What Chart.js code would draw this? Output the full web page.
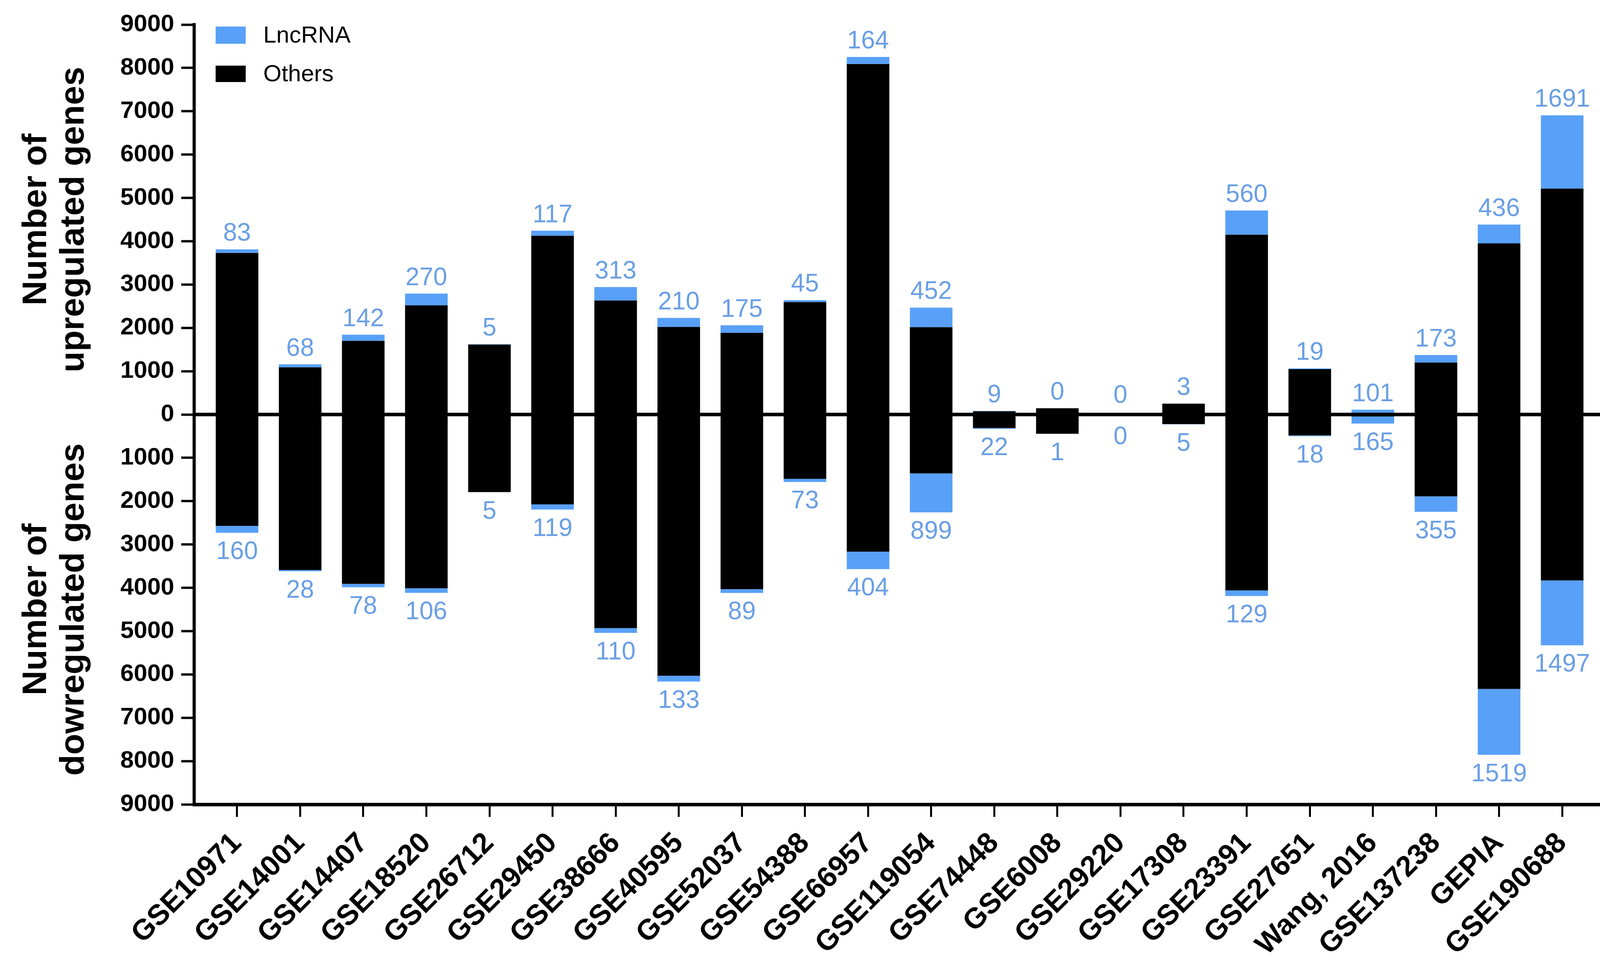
<!DOCTYPE html>
<html><head><meta charset="utf-8">
<script src="https://cdn.jsdelivr.net/npm/chart.js@4.4.1/dist/chart.umd.min.js"></script>
<style>html,body{margin:0;padding:0;background:#fff}canvas{display:block}</style>
</head><body>
<canvas id="c" width="4173" height="2488" style="width:4173px;height:2488px"></canvas>
<script>
const categories = ['GSE10971','GSE14001','GSE14407','GSE18520','GSE26712','GSE29450','GSE38666','GSE40595','GSE52037','GSE54388','GSE66957','GSE119054','GSE74448','GSE6008','GSE29220','GSE17308','GSE23391','GSE27651','Wang, 2016','GSE137238','GEPIA','GSE190688'];
const lncUp      = [83, 68, 142, 270, 5, 117, 313, 210, 175, 45, 164, 452, 9, 0, 0, 3, 560, 19, 101, 173, 436, 1691];
const othersUp   = [3730, 1090, 1700, 2520, 1615, 4125, 2630, 2020, 1885, 2595, 8090, 2015, 75, 145, 0, 250, 4150, 1045, 10, 1200, 3950, 5215];
const lncDown    = [160, 28, 78, 106, 5, 119, 110, 133, 89, 73, 404, 899, 22, 1, 0, 5, 129, 18, 165, 355, 1519, 1497];
const othersDown = [2570, 3590, 3910, 4010, 1790, 2075, 4930, 6030, 4030, 1485, 3165, 1360, 310, 445, 0, 222, 4060, 483, 45, 1890, 6335, 3830];
const legendLabels = ['LncRNA', 'Others'];
const titleUp = ['Number of', 'upregulated genes'];
const titleDown = ['Number of', 'dowregulated genes'];

const BLUE = '#58a0f8';
const BLACK = '#000000';
const LABEL_BLUE = '#6a9fe4';
const FONT = "'Liberation Sans', Arial, Helvetica, sans-serif";

const neg = a => a.map(v => -v);

const labelsPlugin = {
  id: 'lncLabels',
  afterDatasetsDraw(chart) {
    const ctx = chart.ctx;
    const ca = chart.chartArea;
    const yS = chart.scales.y;
    const y0 = yS.getPixelForValue(0);
    ctx.save();
    ctx.strokeStyle = BLACK;
    ctx.lineWidth = 9;
    ctx.beginPath();
    ctx.moveTo(ca.left, y0);
    ctx.lineTo(ca.right, y0);
    ctx.stroke();
    const mUp = chart.getDatasetMeta(1);
    const mDown = chart.getDatasetMeta(3);
    ctx.fillStyle = LABEL_BLUE;
    ctx.font = '64px ' + FONT;
    ctx.textAlign = 'center';
    for (let i = 0; i < categories.length; i++) {
      const bu = mUp.data[i];
      const bd = mDown.data[i];
      ctx.textBaseline = 'alphabetic';
      ctx.fillText(String(lncUp[i]), bu.x, bu.y - 22 - (bu.y >= y0 - 1 ? 8 : 0));
      ctx.textBaseline = 'top';
      ctx.fillText(String(lncDown[i]), bd.x, bd.y + 18 + (bd.y <= y0 + 1 ? 8 : 0));
    }
    ctx.restore();
  },
  afterDraw(chart) {
    const ctx = chart.ctx;
    const ca = chart.chartArea;
    const yS = chart.scales.y;
    ctx.save();
    ctx.fillStyle = BLACK;
    ctx.font = 'bold 88px ' + FONT;
    ctx.textAlign = 'center';
    ctx.textBaseline = 'middle';
    const upC = (yS.getPixelForValue(9000) + yS.getPixelForValue(0)) / 2;
    const dnC = (yS.getPixelForValue(-9000) + yS.getPixelForValue(0)) / 2;
    const xs = [94, 190];
    [[titleUp, upC], [titleDown, dnC]].forEach(([lines, cy]) => {
      lines.forEach((t, k) => {
        ctx.save();
        ctx.translate(xs[k], cy);
        ctx.rotate(-Math.PI / 2);
        ctx.fillText(t, 0, 0);
        ctx.restore();
      });
    });
    const lx = ca.left + 55;
    const boxes = [[BLUE, ca.top + 5, 44], [BLACK, ca.top + 105, 42]];
    ctx.font = '60px ' + FONT;
    ctx.textAlign = 'left';
    ctx.textBaseline = 'middle';
    boxes.forEach(([c, y, h], k) => {
      ctx.fillStyle = c;
      ctx.fillRect(lx, y, 77, h);
      ctx.fillStyle = BLACK;
      ctx.fillText(legendLabels[k], lx + 122, y + h / 2 + 2);
    });
    ctx.restore();
  }
};

new Chart(document.getElementById('c'), {
  type: 'bar',
  data: {
    labels: categories,
    datasets: [
      { label: 'Others', data: othersUp, backgroundColor: BLACK, stack: 's' },
      { label: 'LncRNA', data: lncUp, backgroundColor: BLUE, stack: 's' },
      { label: 'Others (down)', data: neg(othersDown), backgroundColor: BLACK, stack: 's' },
      { label: 'LncRNA (down)', data: neg(lncDown), backgroundColor: BLUE, stack: 's' }
    ]
  },
  options: {
    responsive: false,
    devicePixelRatio: 1,
    animation: false,
    layout: { padding: { top: 63, right: 64, bottom: 0, left: 0 } },
    datasets: { bar: { barPercentage: 0.675, categoryPercentage: 1, borderWidth: 0 } },
    plugins: { legend: { display: false }, tooltip: { enabled: false } },
    scales: {
      x: {
        stacked: true,
        offset: true,
        afterBuildTicks: s => { s._startValue -= 0.18; s._valueRange += 0.36; },
        afterFit: s => { s.height = 429; },
        grid: { display: true, drawOnChartArea: false, offset: false, tickLength: 32, tickWidth: 5, tickColor: BLACK },
        border: { display: true, color: BLACK, width: 9 },
        ticks: { autoSkip: false, maxRotation: 45, minRotation: 45, padding: 24, color: BLACK, font: { family: FONT, size: 74, weight: 'bold' } }
      },
      y: {
        stacked: true,
        min: -9000, max: 9000,
        afterFit: s => { s.width = 497; },
        grid: { display: true, drawOnChartArea: false, tickLength: 33, tickWidth: 6, tickColor: BLACK },
        border: { display: true, color: BLACK, width: 8 },
        ticks: { stepSize: 1000, padding: 18, color: BLACK, callback: v => String(Math.abs(v)), font: { family: FONT, size: 62, weight: 'bold' } }
      }
    }
  },
  plugins: [labelsPlugin]
});
</script>
</body></html>
